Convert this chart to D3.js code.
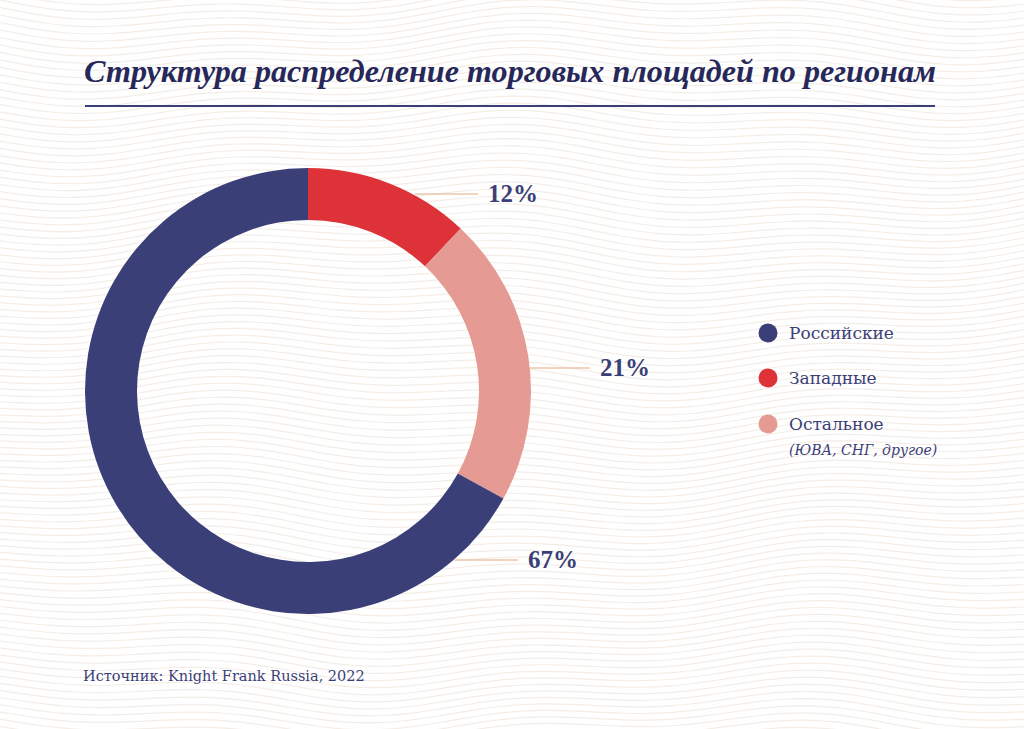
<!DOCTYPE html>
<html><head><meta charset="utf-8">
<script src="https://cdn.jsdelivr.net/npm/d3@7"></script>
<style>html,body{margin:0;padding:0;background:#fff;}svg{display:block;}</style>
</head><body>
<svg id="c" width="1024" height="729"></svg>
<script>
const categories = ["Западные", "Остальное", "Российские"];
const values = [12, 21, 67];
const colors = ["#dd3237", "#e59b93", "#3b3f78"];
const legendItems = ["Российские", "Западные", "Остальное"];
const legendColors = ["#3b3f78", "#dd3237", "#e59b93"];
const title = "Структура распределение торговых площадей по регионам";
const source = "Источник: Knight Frank Russia, 2022";

const svg = d3.select("#c");
const W = 1024, H = 729;

// background waves (decoration)
const bg = svg.append("g");
const waveLine = d3.line().curve(d3.curveBasis);
for (let k = -20; k < 130; k++) {
  const pts = [];
  for (let x = 0; x <= W; x += 16) {
    const y = k * 7 + 10 * Math.sin(x / 130 + k * 0.05) + 6 * Math.sin(x / 47);
    pts.push([x, y]);
  }
  bg.append("path").attr("d", waveLine(pts)).attr("fill", "none")
    .attr("stroke", "#f4ede7").attr("stroke-width", 1.2);
}

// title
svg.append("text").attr("x", 84).attr("y", 82)
  .attr("font-family", "Liberation Serif, serif").attr("font-weight", "bold").attr("font-style", "italic")
  .attr("font-size", 31).attr("fill", "#27285a")
  .attr("textLength", 852).attr("lengthAdjust", "spacingAndGlyphs")
  .text(title);
svg.append("line").attr("x1", 85).attr("x2", 935).attr("y1", 106).attr("y2", 106)
  .attr("stroke", "#3b3f78").attr("stroke-width", 2);

// donut
const cx = 308, cy = 391, R = 223, r = 171;
const pie = d3.pie().sort(null).value(d => d);
const arc = d3.arc().innerRadius(r).outerRadius(R);
const g = svg.append("g").attr("transform", `translate(${cx},${cy})`);
const arcs = pie(values);
g.selectAll("path.s").data(arcs).enter().append("path")
  .attr("d", arc).attr("fill", (d, i) => colors[i]);

// labels with leader lines
const labelY = [194, 368, 560];
const lineX1 = [415, 530, 455];
const lineX2 = [478, 590, 518];
arcs.forEach((d, i) => {
  svg.append("line").attr("x1", lineX1[i]).attr("x2", lineX2[i])
    .attr("y1", labelY[i]).attr("y2", labelY[i])
    .attr("stroke", "#ebc6aa").attr("stroke-width", 1.3);
  svg.append("text").attr("x", lineX2[i] + 10).attr("y", labelY[i] + 8)
    .attr("font-family", "Liberation Serif, serif").attr("font-weight", "bold")
    .attr("font-size", 25).attr("fill", "#3b3f78")
    .text(values[i] + "%");
});

// legend
const ly = [333, 378, 424];
legendItems.forEach((t, i) => {
  svg.append("circle").attr("cx", 768).attr("cy", ly[i]).attr("r", 9.5).attr("fill", legendColors[i]);
  svg.append("text").attr("x", 789).attr("y", ly[i] + 6)
    .attr("font-family", "DejaVu Serif, serif").attr("font-size", 17).attr("fill", "#3b3f78")
    .text(t);
});
svg.append("text").attr("x", 789).attr("y", 455)
  .attr("font-family", "DejaVu Serif, serif").attr("font-style", "italic")
  .attr("font-size", 14).attr("fill", "#3b3f78").text("(ЮВА, СНГ, другое)");

// source
svg.append("text").attr("x", 83).attr("y", 681)
  .attr("font-family", "DejaVu Serif, serif").attr("font-size", 14.5).attr("fill", "#3b3f78")
  .text(source);
</script>
</body></html>
